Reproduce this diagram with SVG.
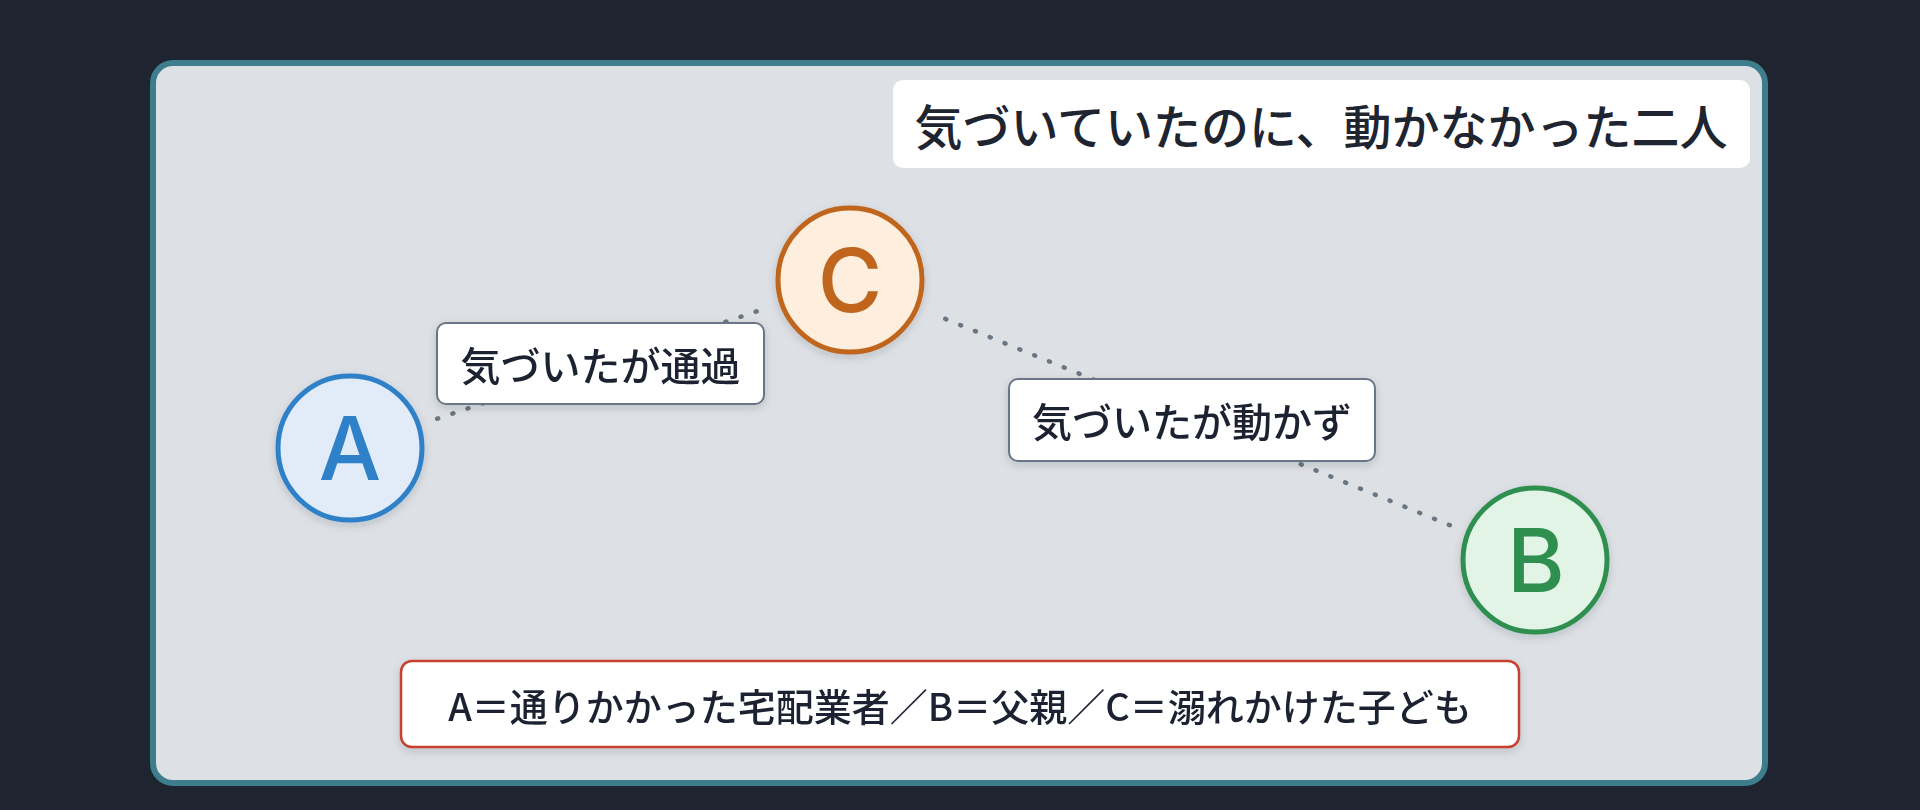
<svg xmlns="http://www.w3.org/2000/svg" width="1920" height="810" viewBox="0 0 1920 810">
<defs>
<filter id="sh" x="-20%" y="-20%" width="140%" height="150%">
<feDropShadow dx="0" dy="3" stdDeviation="4" flood-color="#1e2430" flood-opacity="0.16"/>
</filter>
<style>
.jp{font-family:"Noto Sans CJK JP","Noto Sans",sans-serif;fill:#1e2430;font-weight:500;}
.lbl{fill:#ffffff;stroke:#6b7685;stroke-width:2;}
.edge{fill:none;stroke:#6b7685;stroke-width:4.5;stroke-linecap:round;stroke-dasharray:1 15;}
.letter{font-family:Inter,"Noto Sans",sans-serif;font-size:88px;font-weight:500;text-anchor:middle;}
</style>
</defs>
<rect x="0" y="0" width="1920" height="810" fill="#1e2430"/>
<rect id="panel" x="153" y="63" width="1612" height="720" rx="20" fill="#dde0e5" stroke="#3d7d8c" stroke-width="6"/>
<g id="title">
<rect x="893" y="80" width="857" height="88" rx="10" fill="#ffffff"/>
<text class="jp" x="1321" y="124" font-size="48" text-anchor="middle" dominant-baseline="central">気づいていたのに、動かなかった二人</text>
</g>
<g id="connectors">
<line class="edge" x1="437.2" y1="418.7" x2="762.8" y2="309.3"/>
<line class="edge" x1="1449.8" y1="525.2" x2="935.2" y2="314.8"/>
<g id="label-ac" filter="url(#sh)">
<rect class="lbl" x="437" y="323" width="327" height="81" rx="9"/>
<text class="jp" x="600.5" y="364" font-size="40" text-anchor="middle" dominant-baseline="central">気づいたが通過</text>
</g>
<g id="label-cb" filter="url(#sh)">
<rect class="lbl" x="1009" y="379" width="366" height="82" rx="9"/>
<text class="jp" x="1192" y="420" font-size="40" text-anchor="middle" dominant-baseline="central">気づいたが動かず</text>
</g>
</g>
<g id="node-a" filter="url(#sh)">
<circle cx="350" cy="448" r="72" fill="#e1ecf8" stroke="#2f80c8" stroke-width="5"/>
<text class="letter" x="350" y="480" fill="#2f80c8">A</text>
</g>
<g id="node-c" filter="url(#sh)">
<circle cx="850" cy="280" r="72" fill="#fdeede" stroke="#c0651a" stroke-width="5"/>
<text class="letter" x="850" y="312" fill="#c0651a">C</text>
</g>
<g id="node-b" filter="url(#sh)">
<circle cx="1535" cy="560" r="72" fill="#e1f4e6" stroke="#2f8f50" stroke-width="5"/>
<text class="letter" x="1536" y="592" fill="#2f8f50">B</text>
</g>
<g id="legend" filter="url(#sh)">
<rect x="401" y="661" width="1118" height="86" rx="11" fill="#ffffff" stroke="#c8412e" stroke-width="2.5"/>
<text class="jp" x="960" y="704" font-size="38" text-anchor="middle" dominant-baseline="central">A＝通りかかった宅配業者／B＝父親／C＝溺れかけた子ども</text>
</g>
</svg>
